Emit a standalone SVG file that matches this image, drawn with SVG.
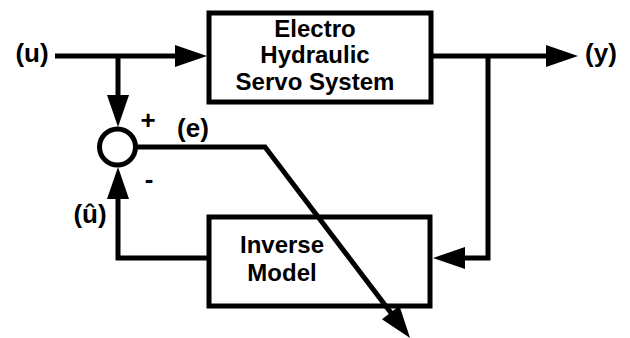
<svg xmlns="http://www.w3.org/2000/svg" width="630" height="338" viewBox="0 0 630 338">
<style>
.box{fill:#fff;stroke:#000;stroke-width:5}
.ln{fill:none;stroke:#000;stroke-width:5;stroke-linejoin:miter}
.t{font-family:"Liberation Sans",Arial,sans-serif;font-weight:bold;font-size:24px;fill:#000;text-anchor:middle}
.lbl{font-family:"Liberation Sans",Arial,sans-serif;font-weight:bold;font-size:26px;fill:#000;text-anchor:middle}
</style>
<defs>
<marker id="ah" markerUnits="userSpaceOnUse" markerWidth="32" markerHeight="22" refX="24" refY="11" orient="auto" overflow="visible">
<path d="M0,0 L32,11 L0,22 z" fill="#000"/>
</marker>
</defs>
<rect width="630" height="338" fill="#fff"/>
<g id="ehss">
<rect class="box" x="209" y="13" width="222" height="89"/>
<text class="t" x="315" y="37">Electro</text>
<text class="t" x="315" y="63">Hydraulic</text>
<text class="t" x="315" y="90">Servo System</text>
</g>
<g id="inverse">
<rect class="box" x="209" y="217" width="221" height="89"/>
<text class="t" x="282" y="253">Inverse</text>
<text class="t" x="282" y="281">Model</text>
</g>
<g id="sum">
<circle cx="117.5" cy="147" r="18" fill="#fff" stroke="#000" stroke-width="5"/>
<text class="lbl" x="148" y="129">+</text>
<text class="lbl" x="149" y="188">-</text>
</g>
<g id="connectors">
<path class="ln" d="M55,56 H199" marker-end="url(#ah)"/>
<path class="ln" d="M118,56 V119" marker-end="url(#ah)"/>
<path class="ln" d="M431,56 H570" marker-end="url(#ah)"/>
<path class="ln" d="M488,56 V258 H441" marker-end="url(#ah)"/>
<path class="ln" d="M207,258 H118 V175" marker-end="url(#ah)"/>
<path class="ln" d="M136,147 H265 L405.2,331.6" marker-end="url(#ah)"/>
</g>
<g id="labels">
<text class="lbl" x="32" y="62">(u)</text>
<text class="lbl" x="601" y="62">(y)</text>
<text class="lbl" x="193" y="137">(e)</text>
<text class="lbl" x="90" y="223">(û)</text>
</g>
</svg>
